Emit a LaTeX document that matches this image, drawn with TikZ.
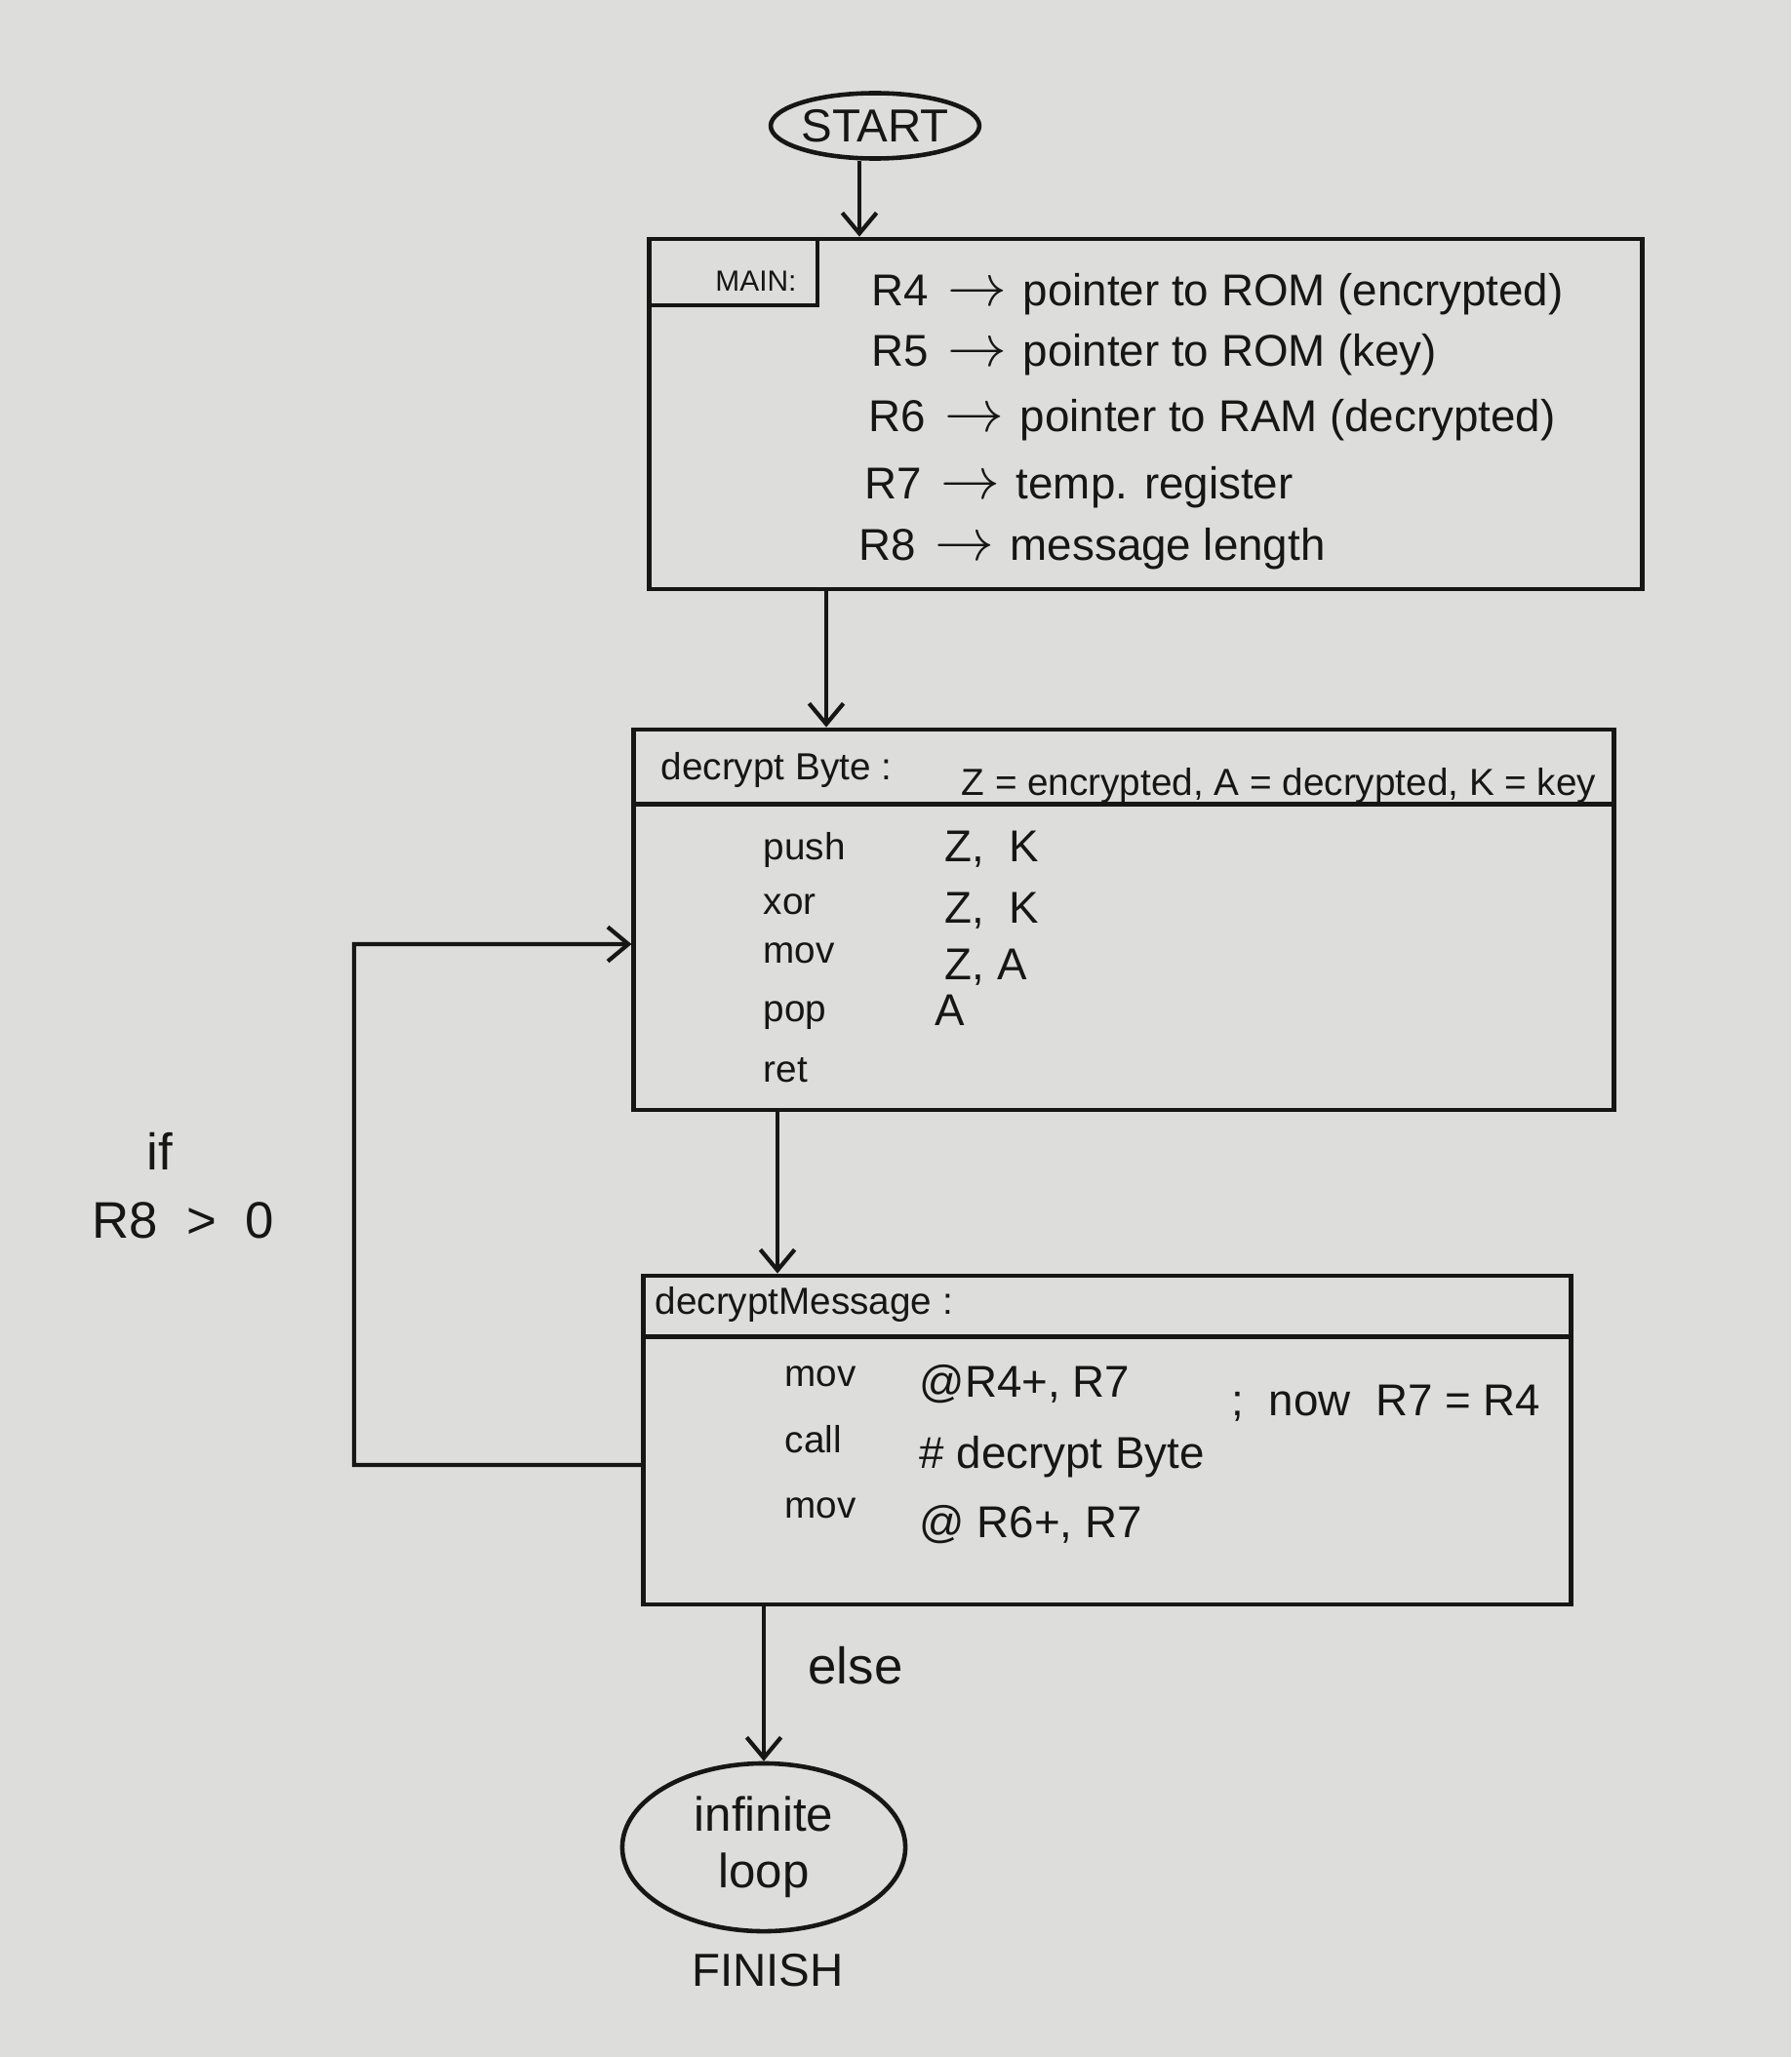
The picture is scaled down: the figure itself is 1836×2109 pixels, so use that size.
\documentclass[tikz,border=0pt]{standalone}
\usepackage{fontspec}
\setmainfont{Liberation Sans}
\usetikzlibrary{shapes.geometric,arrows.meta}
\definecolor{paper}{RGB}{221,222,219}
\definecolor{ink}{RGB}{22,22,22}
\newcommand\regrow[2]{\makebox[0.78cm][l]{#1}\makebox[0.77cm][l]{\fontsize{17}{17}\selectfont$\rightarrow$}#2}
\begin{document}
\begin{tikzpicture}[x=0.01cm,y=-0.01cm,color=ink,
  arr/.style={-{Straight Barb[length=6pt,width=10pt,line width=1.2pt]},line width=1.2pt},
  box/.style={draw,rectangle,line width=1.3pt,inner sep=0pt},
  oval/.style={draw,ellipse,line width=1.3pt,inner sep=0pt},
  txt/.style={inner sep=0pt,anchor=west,text height=0.75em,text depth=0.22em},
  lbl/.style={inner sep=0pt},
  fa/.style={font=\fontsize{13}{16}\selectfont},
  fb/.style={font=\fontsize{11}{13}\selectfont},
  fc/.style={font=\fontsize{15}{18}\selectfont}]
\fill[paper] (0,0) rectangle (1836,2109);
\useasboundingbox (0,0) rectangle (1836,2109);

% START
\node[oval,minimum width=2.1cm,minimum height=0.67cm,font=\fontsize{13.5}{16}\selectfont] (start) at (897,129) {START};

% MAIN box
\node[box,minimum width=10.17cm,minimum height=3.59cm] (main) at (1174.5,424.5) {};
\node[box,minimum width=1.72cm,minimum height=0.68cm,anchor=north west] (mainlbl) at (main.north west) {};
\node[lbl,font=\fontsize{8.5}{10}\selectfont] (mainlbltxt) at (775,288) {MAIN:};
\node[txt,fa] (r4) at (893,304) {\regrow{R4}{pointer to ROM (encrypted)}};
\node[txt,fa] (r5) at (893,366) {\regrow{R5}{pointer to ROM (key)}};
\node[txt,fa] (r6) at (890,433) {\regrow{R6}{pointer to RAM (decrypted)}};
\node[txt,fa] (r7) at (886,502) {\regrow{R7}{temp. register}};
\node[txt,fa] (r8) at (880,565) {\regrow{R8}{message length}};

% decryptByte box
\node[box,minimum width=10.04cm,minimum height=3.9cm] (dbyte) at (1152,943) {};
\draw[line width=1.3pt] ([yshift=-0.79cm]dbyte.north west) -- ([yshift=-0.79cm]dbyte.north east);
\node[txt,fb] (dbhead) at (677,790) {decrypt Byte :};
\node[txt,fb] (dbvars) at (985,806) {Z = encrypted, A = decrypted, K = key};
\node[txt,fb] (i1) at (782,872) {push};
\node[txt,fb] (i2) at (782,928) {xor};
\node[txt,fb] (i3) at (782,978) {mov};
\node[txt,fb] (i4) at (782,1038) {pop};
\node[txt,fb] (i5) at (782,1100) {ret};
\node[txt,fa] (o1) at (968,874) {Z,\ \ K};
\node[txt,fa] (o2) at (968,937) {Z,\ \ K};
\node[txt,fa] (o3) at (968,995) {Z,\ A};
\node[txt,fa] (o4) at (958,1042) {A};

% decryptMessage box
\node[box,minimum width=9.5cm,minimum height=3.37cm] (dmsg) at (1135,1476.5) {};
\draw[line width=1.3pt] ([yshift=-0.65cm]dmsg.north west) -- ([yshift=-0.65cm]dmsg.north east);
\node[txt,fb] (dmhead) at (671,1338) {decryptMessage :};
\node[txt,fb] (m1) at (804,1412) {mov};
\node[txt,fb] (m2) at (804,1480) {call};
\node[txt,fb] (m3) at (804,1547) {mov};
\node[txt,fa] (p1) at (942,1423) {@R4+,\ R7};
\node[txt,fa] (p1c) at (1262,1442) {;\ \ now\ \ R7 = R4};
\node[txt,fa] (p2) at (942,1496) {\# decrypt Byte};
\node[txt,fa] (p3) at (942,1567) {@ R6+,\ R7};

% loop back
\coordinate (lb) at (363,1502);
\coordinate (lt) at (363,968);
\draw[arr] ([yshift=-0.255cm]dmsg.west) -- (lb) -- (lt) -- (lt -| dbyte.west);
\node[lbl,fc] (ifl) at (164,1180) {if};
\node[lbl,fc] (cond) at (188,1251) {R8\ \ >\ \ 0};

% FINISH
\node[oval,minimum width=2.9cm,minimum height=1.72cm,align=center,font=\fontsize{14}{16.5}\selectfont] (fin) at (783,1894) {infinite\\loop};
\node[lbl,font=\fontsize{13.5}{16}\selectfont] (finlbl) at (787,2020) {FINISH};
\node[lbl,fc] (else) at (877,1708) {else};

% connectors
\draw[arr] ([xshift=-0.16cm]start.south) -- ([xshift=-0.16cm]start.south |- main.north);
\draw[arr] (847,0 |- main.south) -- (847,0 |- dbyte.north);
\draw[arr] (797,0 |- dbyte.south) -- (797,0 |- dmsg.north);
\draw[arr] (fin.north |- dmsg.south) -- (fin.north);
\end{tikzpicture}
\end{document}
